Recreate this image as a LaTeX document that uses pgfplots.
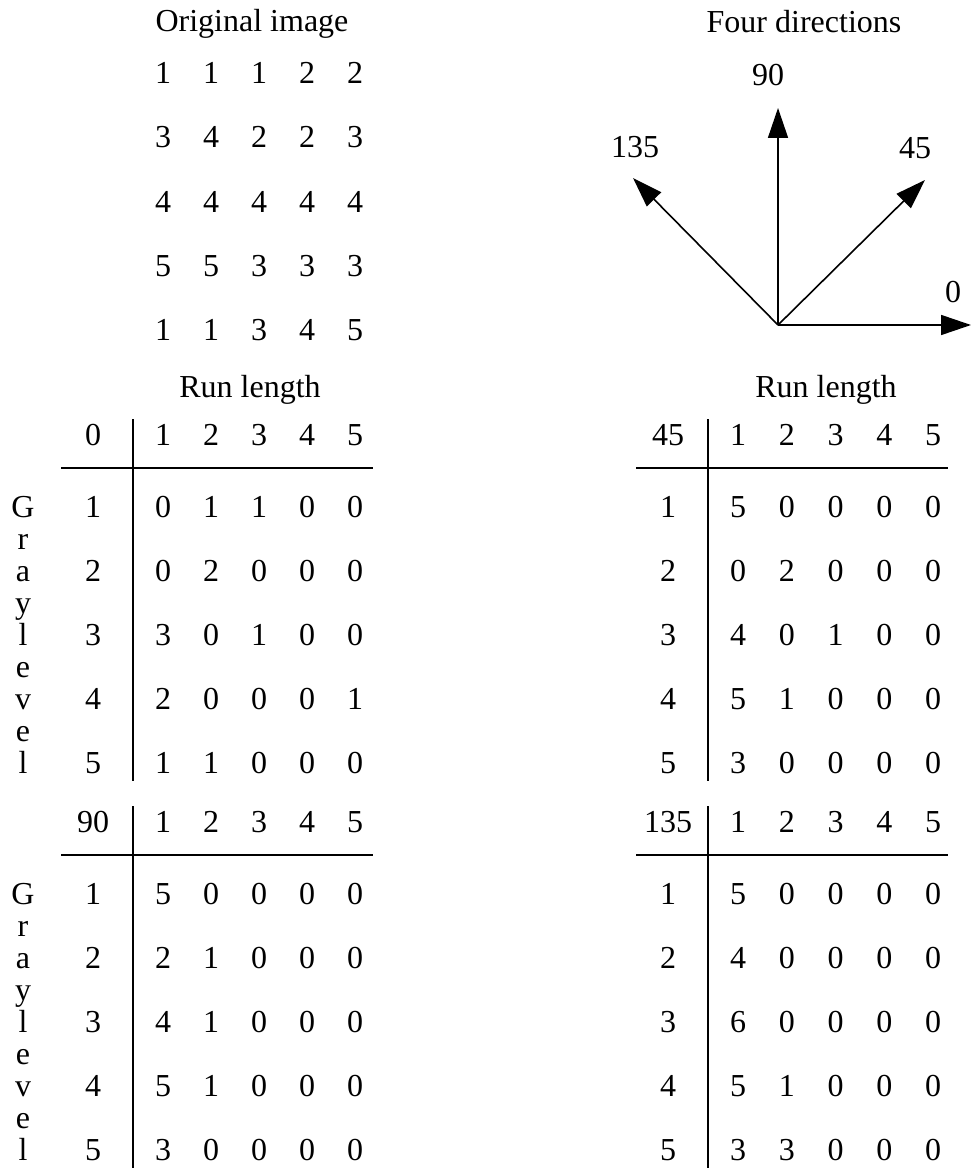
\documentclass[border=0pt]{standalone}
\usepackage{pgfplots}
\usepackage{pgfplotstable}
\usepackage{fontspec}
\setmainfont{Liberation Serif}
\pgfplotsset{compat=1.18}
\usetikzlibrary{arrows.meta}

% run-length matrices: g = gray level, c1..c5 = run length 1..5
\pgfplotstableread{
g c1 c2 c3 c4 c5
1 0 1 1 0 0
2 0 2 0 0 0
3 3 0 1 0 0
4 2 0 0 0 1
5 1 1 0 0 0
}\tabA
\pgfplotstableread{
g c1 c2 c3 c4 c5
1 5 0 0 0 0
2 0 2 0 0 0
3 4 0 1 0 0
4 5 1 0 0 0
5 3 0 0 0 0
}\tabB
\pgfplotstableread{
g c1 c2 c3 c4 c5
1 5 0 0 0 0
2 2 1 0 0 0
3 4 1 0 0 0
4 5 1 0 0 0
5 3 0 0 0 0
}\tabC
\pgfplotstableread{
g c1 c2 c3 c4 c5
1 5 0 0 0 0
2 4 0 0 0 0
3 6 0 0 0 0
4 5 1 0 0 0
5 3 3 0 0 0
}\tabD
% the 5x5 image
\pgfplotstableread{
g c1 c2 c3 c4 c5
1 1 1 1 2 2
2 3 4 2 2 3
3 4 4 4 4 4
4 5 5 3 3 3
5 1 1 3 4 5
}\img
\pgfplotstableread{
n pos
1 0
2 1
3 2
4 3
5 4
}\runhead
\pgfplotstableread{
k ch
0 G
1 r
2 a
3 y
4 l
5 e
6 v
7 e
8 l
}\gray
\pgfplotstableread{
t u
0 0
1 1
}\ends

\pgfplotsset{
  txt/.style={only marks, mark=*, mark size=0pt, mark options={draw=none,fill=none},
    point meta=explicit symbolic, nodes near coords={\pgfplotspointmeta},
    nodes near coords align={center},
    every node near coord/.style={anchor=center, inner sep=0pt,
      font=\fontsize{16}{19}\selectfont, text=black}},
  txtbase/.style={txt, every node near coord/.append style={anchor=base}},
  rule/.style={black, line width=1.2pt, no marks},
  dir/.style={black, line width=0.8pt, no marks, -{Triangle[length=15pt,width=10pt]}},
}

% #1 table, #2 direction, #3 x of label column, #4 y of header row, #5 column step
\newcommand\runtable[5]{%
  \addplot[txt] coordinates {(#3,#4) [#2]};
  \addplot[txt] table[x expr={#3+70+\thisrow{pos}*#5}, y expr={#4}, meta=n] {\runhead};
  \addplot[txt] table[x expr={#3}, y expr={#4+72+(\thisrow{g}-1)*64}, meta=g] {#1};
  \pgfplotsinvokeforeach{1,...,5}{%
    \addplot[txt] table[x expr={#3+70+(##1-1)*#5}, y expr={#4+72+(\thisrow{g}-1)*64}, meta=c##1] {#1};
  }
  \addplot[rule] table[x expr={#3-32+\thisrow{t}*312}, y expr={#4+33}] {\ends};
  \addplot[rule] table[x expr={#3+40}, y expr={#4-16+\thisrow{t}*362}] {\ends};
}

\begin{document}
\begin{tikzpicture}
\begin{axis}[
  width=485.5pt, height=585pt, scale only axis,
  xmin=0, xmax=971, ymin=0, ymax=1170, y dir=reverse,
  hide axis, clip=false,
]
\addplot[draw=none] coordinates {(0,0) (971,1170)};

% titles
\addplot[txtbase] coordinates {(252,32) [Original image] (804,33) [Four directions]
  (250,397) [Run length] (826,397) [Run length]};

% original image
\pgfplotsinvokeforeach{1,...,5}{%
  \addplot[txt] table[x expr={163+(#1-1)*48}, y expr={73+(\thisrow{g}-1)*64.25}, meta=c#1] {\img};
}

% four directions
\addplot[dir] coordinates {(778,325) (971,325)};
\addplot[dir] coordinates {(778,325) (778,108)};
\addplot[dir] coordinates {(778,325) (925,180)};
\addplot[dir] coordinates {(778,325) (633,178)};
\addplot[txt] coordinates {(953,292) [0] (768,75) [90] (915,148) [45] (635,147) [135]};

% run-length tables
\runtable{\tabA}{0}{93}{435}{48}
\runtable{\tabB}{45}{668}{435}{48.75}
\runtable{\tabC}{90}{93}{822}{48}
\runtable{\tabD}{135}{668}{822}{48.75}

% vertical "Gray level"
\addplot[txtbase] table[x expr=23, y expr={517.5+\thisrow{k}*32}, meta=ch] {\gray};
\addplot[txtbase] table[x expr=23, y expr={904.5+\thisrow{k}*32}, meta=ch] {\gray};
\end{axis}
\end{tikzpicture}
\end{document}
